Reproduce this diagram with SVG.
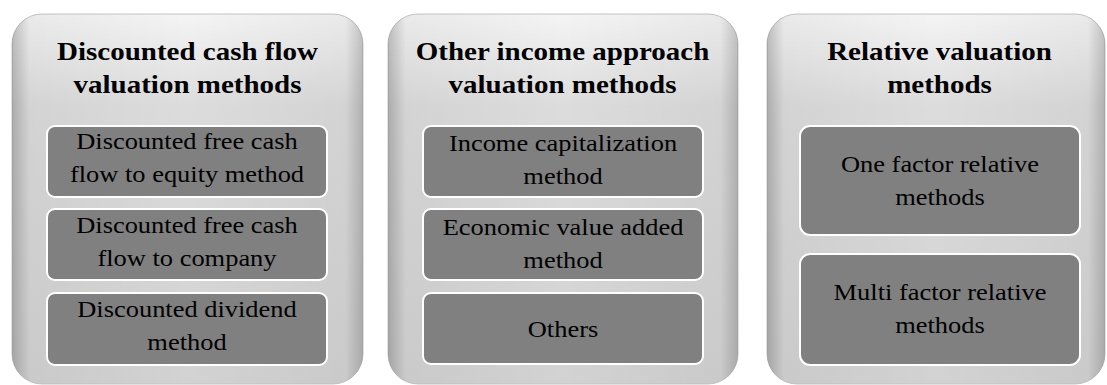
<svg xmlns="http://www.w3.org/2000/svg" width="1107" height="385" viewBox="0 0 1107 385">
<defs>
<linearGradient id="pv" x1="0" y1="0" x2="0" y2="1">
<stop offset="0" stop-color="#f4f4f4"/>
<stop offset="0.25" stop-color="#dcdcdc"/>
<stop offset="1" stop-color="#d2d2d2"/>
</linearGradient>
<linearGradient id="ph" x1="0" y1="0" x2="1" y2="0">
<stop offset="0" stop-color="#000" stop-opacity="0.22"/>
<stop offset="0.05" stop-color="#000" stop-opacity="0.04"/>
<stop offset="0.5" stop-color="#000" stop-opacity="0"/>
<stop offset="0.95" stop-color="#000" stop-opacity="0.04"/>
<stop offset="1" stop-color="#000" stop-opacity="0.2"/>
</linearGradient>
</defs>
<rect width="1107" height="385" fill="#ffffff"/>
<g id="panel-dcf">
<rect fill="url(#pv)" stroke="#c4c4c4" x="12" y="14" width="351" height="370" rx="30"/>
<rect fill="url(#ph)" x="12" y="14" width="351" height="370" rx="30"/>
<g transform="translate(187.5 0) scale(1.16 1)">
<text font-family="Liberation Serif" font-weight="bold" font-size="25" text-anchor="middle" x="0" y="60">Discounted cash flow</text>
<text font-family="Liberation Serif" font-weight="bold" font-size="25" text-anchor="middle" x="0" y="93">valuation methods</text>
</g>
</g>
<g id="panel-other">
<rect fill="url(#pv)" stroke="#c4c4c4" x="388" y="14" width="350" height="370" rx="30"/>
<rect fill="url(#ph)" x="388" y="14" width="350" height="370" rx="30"/>
<g transform="translate(562.5 0) scale(1.16 1)">
<text font-family="Liberation Serif" font-weight="bold" font-size="25" text-anchor="middle" x="0" y="60">Other income approach</text>
<text font-family="Liberation Serif" font-weight="bold" font-size="25" text-anchor="middle" x="0" y="93">valuation methods</text>
</g>
</g>
<g id="panel-relative">
<rect fill="url(#pv)" stroke="#c4c4c4" x="767" y="14" width="338" height="370" rx="30"/>
<rect fill="url(#ph)" x="767" y="14" width="338" height="370" rx="30"/>
<g transform="translate(939.5 0) scale(1.16 1)">
<text font-family="Liberation Serif" font-weight="bold" font-size="25" text-anchor="middle" x="0" y="60">Relative valuation</text>
<text font-family="Liberation Serif" font-weight="bold" font-size="25" text-anchor="middle" x="0" y="93">methods</text>
</g>
</g>
<g id="dcf-1">
<rect fill="#808080" stroke="#ffffff" stroke-width="2" x="47" y="126" width="280" height="71" rx="8"/>
<g transform="translate(187 0) scale(1.15 1)">
<text font-family="Liberation Serif" font-size="23" text-anchor="middle" x="0" y="149">Discounted free cash</text>
<text font-family="Liberation Serif" font-size="23" text-anchor="middle" x="0" y="182">flow to equity method</text>
</g>
</g>
<g id="dcf-2">
<rect fill="#808080" stroke="#ffffff" stroke-width="2" x="47" y="209" width="280" height="71" rx="8"/>
<g transform="translate(187 0) scale(1.15 1)">
<text font-family="Liberation Serif" font-size="23" text-anchor="middle" x="0" y="233">Discounted free cash</text>
<text font-family="Liberation Serif" font-size="23" text-anchor="middle" x="0" y="266">flow to company</text>
</g>
</g>
<g id="dcf-3">
<rect fill="#808080" stroke="#ffffff" stroke-width="2" x="47" y="293" width="280" height="72" rx="8"/>
<g transform="translate(187 0) scale(1.15 1)">
<text font-family="Liberation Serif" font-size="23" text-anchor="middle" x="0" y="317">Discounted dividend</text>
<text font-family="Liberation Serif" font-size="23" text-anchor="middle" x="0" y="350">method</text>
</g>
</g>
<g id="other-1">
<rect fill="#808080" stroke="#ffffff" stroke-width="2" x="423" y="126" width="280" height="71" rx="8"/>
<g transform="translate(563 0) scale(1.15 1)">
<text font-family="Liberation Serif" font-size="23" text-anchor="middle" x="0" y="151">Income capitalization</text>
<text font-family="Liberation Serif" font-size="23" text-anchor="middle" x="0" y="184">method</text>
</g>
</g>
<g id="other-2">
<rect fill="#808080" stroke="#ffffff" stroke-width="2" x="423" y="209" width="280" height="71" rx="8"/>
<g transform="translate(563 0) scale(1.15 1)">
<text font-family="Liberation Serif" font-size="23" text-anchor="middle" x="0" y="235">Economic value added</text>
<text font-family="Liberation Serif" font-size="23" text-anchor="middle" x="0" y="268">method</text>
</g>
</g>
<g id="other-3">
<rect fill="#808080" stroke="#ffffff" stroke-width="2" x="423" y="293" width="280" height="71" rx="8"/>
<g transform="translate(563 0) scale(1.15 1)">
<text font-family="Liberation Serif" font-size="23" text-anchor="middle" x="0" y="337">Others</text>
</g>
</g>
<g id="rel-1">
<rect fill="#808080" stroke="#ffffff" stroke-width="2" x="800" y="126" width="280" height="109" rx="10"/>
<g transform="translate(940 0) scale(1.15 1)">
<text font-family="Liberation Serif" font-size="23" text-anchor="middle" x="0" y="172">One factor relative</text>
<text font-family="Liberation Serif" font-size="23" text-anchor="middle" x="0" y="205">methods</text>
</g>
</g>
<g id="rel-2">
<rect fill="#808080" stroke="#ffffff" stroke-width="2" x="800" y="254" width="280" height="111" rx="10"/>
<g transform="translate(940 0) scale(1.15 1)">
<text font-family="Liberation Serif" font-size="23" text-anchor="middle" x="0" y="300">Multi factor relative</text>
<text font-family="Liberation Serif" font-size="23" text-anchor="middle" x="0" y="333">methods</text>
</g>
</g>
<g id="connectors"/>
</svg>
